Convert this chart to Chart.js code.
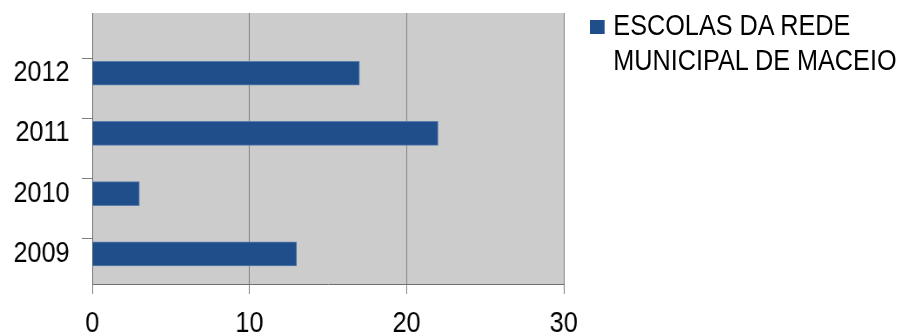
<!DOCTYPE html>
<html>
<head>
<meta charset="utf-8">
<script src="https://cdn.jsdelivr.net/npm/chart.js@4.4.1/dist/chart.umd.min.js"></script>
<style>
  body { margin: 0; background: #fff; overflow: hidden; }
  /* everything is laid out 15% wider, then squeezed to 904px */
  #wrap {
    position: relative; width: 1039px; height: 336px;
    transform: scaleX(0.87); transform-origin: 0 0;
  }
  #legend {
    position: absolute; left: 678px; top: 8px; white-space: nowrap;
    font: 29px/35px "Liberation Sans", Arial, sans-serif;
    color: #000;
  }
  #legend .box {
    position: absolute; left: 0; top: 12px; width: 17px; height: 14px;
    background: #1f4e8a;
  }
  #legend .txt { margin-left: 27px; }
</style>
</head>
<body>
<div id="wrap">
  <canvas id="chart" width="1039" height="336"></canvas>
  <div id="legend"><span class="box"></span><div class="txt">ESCOLAS DA REDE<br>MUNICIPAL DE MACEIO</div></div>
</div>
<script>
// Schools per year
const years = ['2009', '2010', '2011', '2012'];
const schools = [13, 3, 22, 17];
const xTicks = [0, 10, 20, 30];

const font = { family: '"Liberation Sans", Arial, sans-serif', size: 29 };

// gray plot background
const plotBg = {
  id: 'plotBg',
  beforeDraw(chart) {
    const { ctx, chartArea: a } = chart;
    ctx.save();
    ctx.fillStyle = '#cccccc';
    ctx.fillRect(a.left, a.top, a.right - a.left, a.bottom - a.top);
    ctx.restore();
  }
};

// years sit on whole numbers, tick marks on the halves between them
const isHalf = v => Math.abs(v % 1) === 0.5;

new Chart(document.getElementById('chart'), {
  type: 'bar',
  data: {
    datasets: [{
      label: 'ESCOLAS DA REDE MUNICIPAL DE MACEIO',
      data: schools.map((v, i) => ({ x: v, y: i })),
      backgroundColor: '#1f4e8a',
      borderColor: '#5a7dab',
      borderWidth: 1,
      barThickness: 24
    }]
  },
  options: {
    indexAxis: 'y',
    responsive: false,
    animation: false,
    layout: { padding: { top: 13, right: 391, left: 0, bottom: 0 } },
    plugins: { legend: { display: false }, tooltip: { enabled: false } },
    scales: {
      x: {
        type: 'linear',
        min: 0,
        max: 30,
        afterBuildTicks: s => { s.ticks = xTicks.map(v => ({ value: v })); },
        afterFit: s => { s.height = 52; },
        grid: { color: '#7f7f7f', tickColor: '#7f7f7f', tickLength: 10 },
        border: { color: '#6f6f6f' },
        ticks: { color: '#000', font, padding: 13 }
      },
      y: {
        type: 'linear',
        offset: false,
        min: -0.5,
        max: 4,
        afterBuildTicks: s => {
          const t = [];
          for (let v = -0.5; v <= years.length - 0.5; v += 0.5) t.push({ value: v });
          s.ticks = t;
        },
        afterFit: s => {
          s.width = 106;
          s.paddingTop = 0;
          s.paddingBottom = 0;
        },
        grid: {
          drawOnChartArea: false,
          tickLength: 12,
          tickColor: c => (c.tick && isHalf(c.tick.value)) ? '#7f7f7f' : 'rgba(0,0,0,0)'
        },
        border: { color: '#6f6f6f' },
        ticks: {
          color: '#000',
          font,
          padding: 14,
          autoSkip: false,
          callback: v => isHalf(v) ? '' : years[v]
        }
      }
    }
  },
  plugins: [plotBg]
});
</script>
</body>
</html>
